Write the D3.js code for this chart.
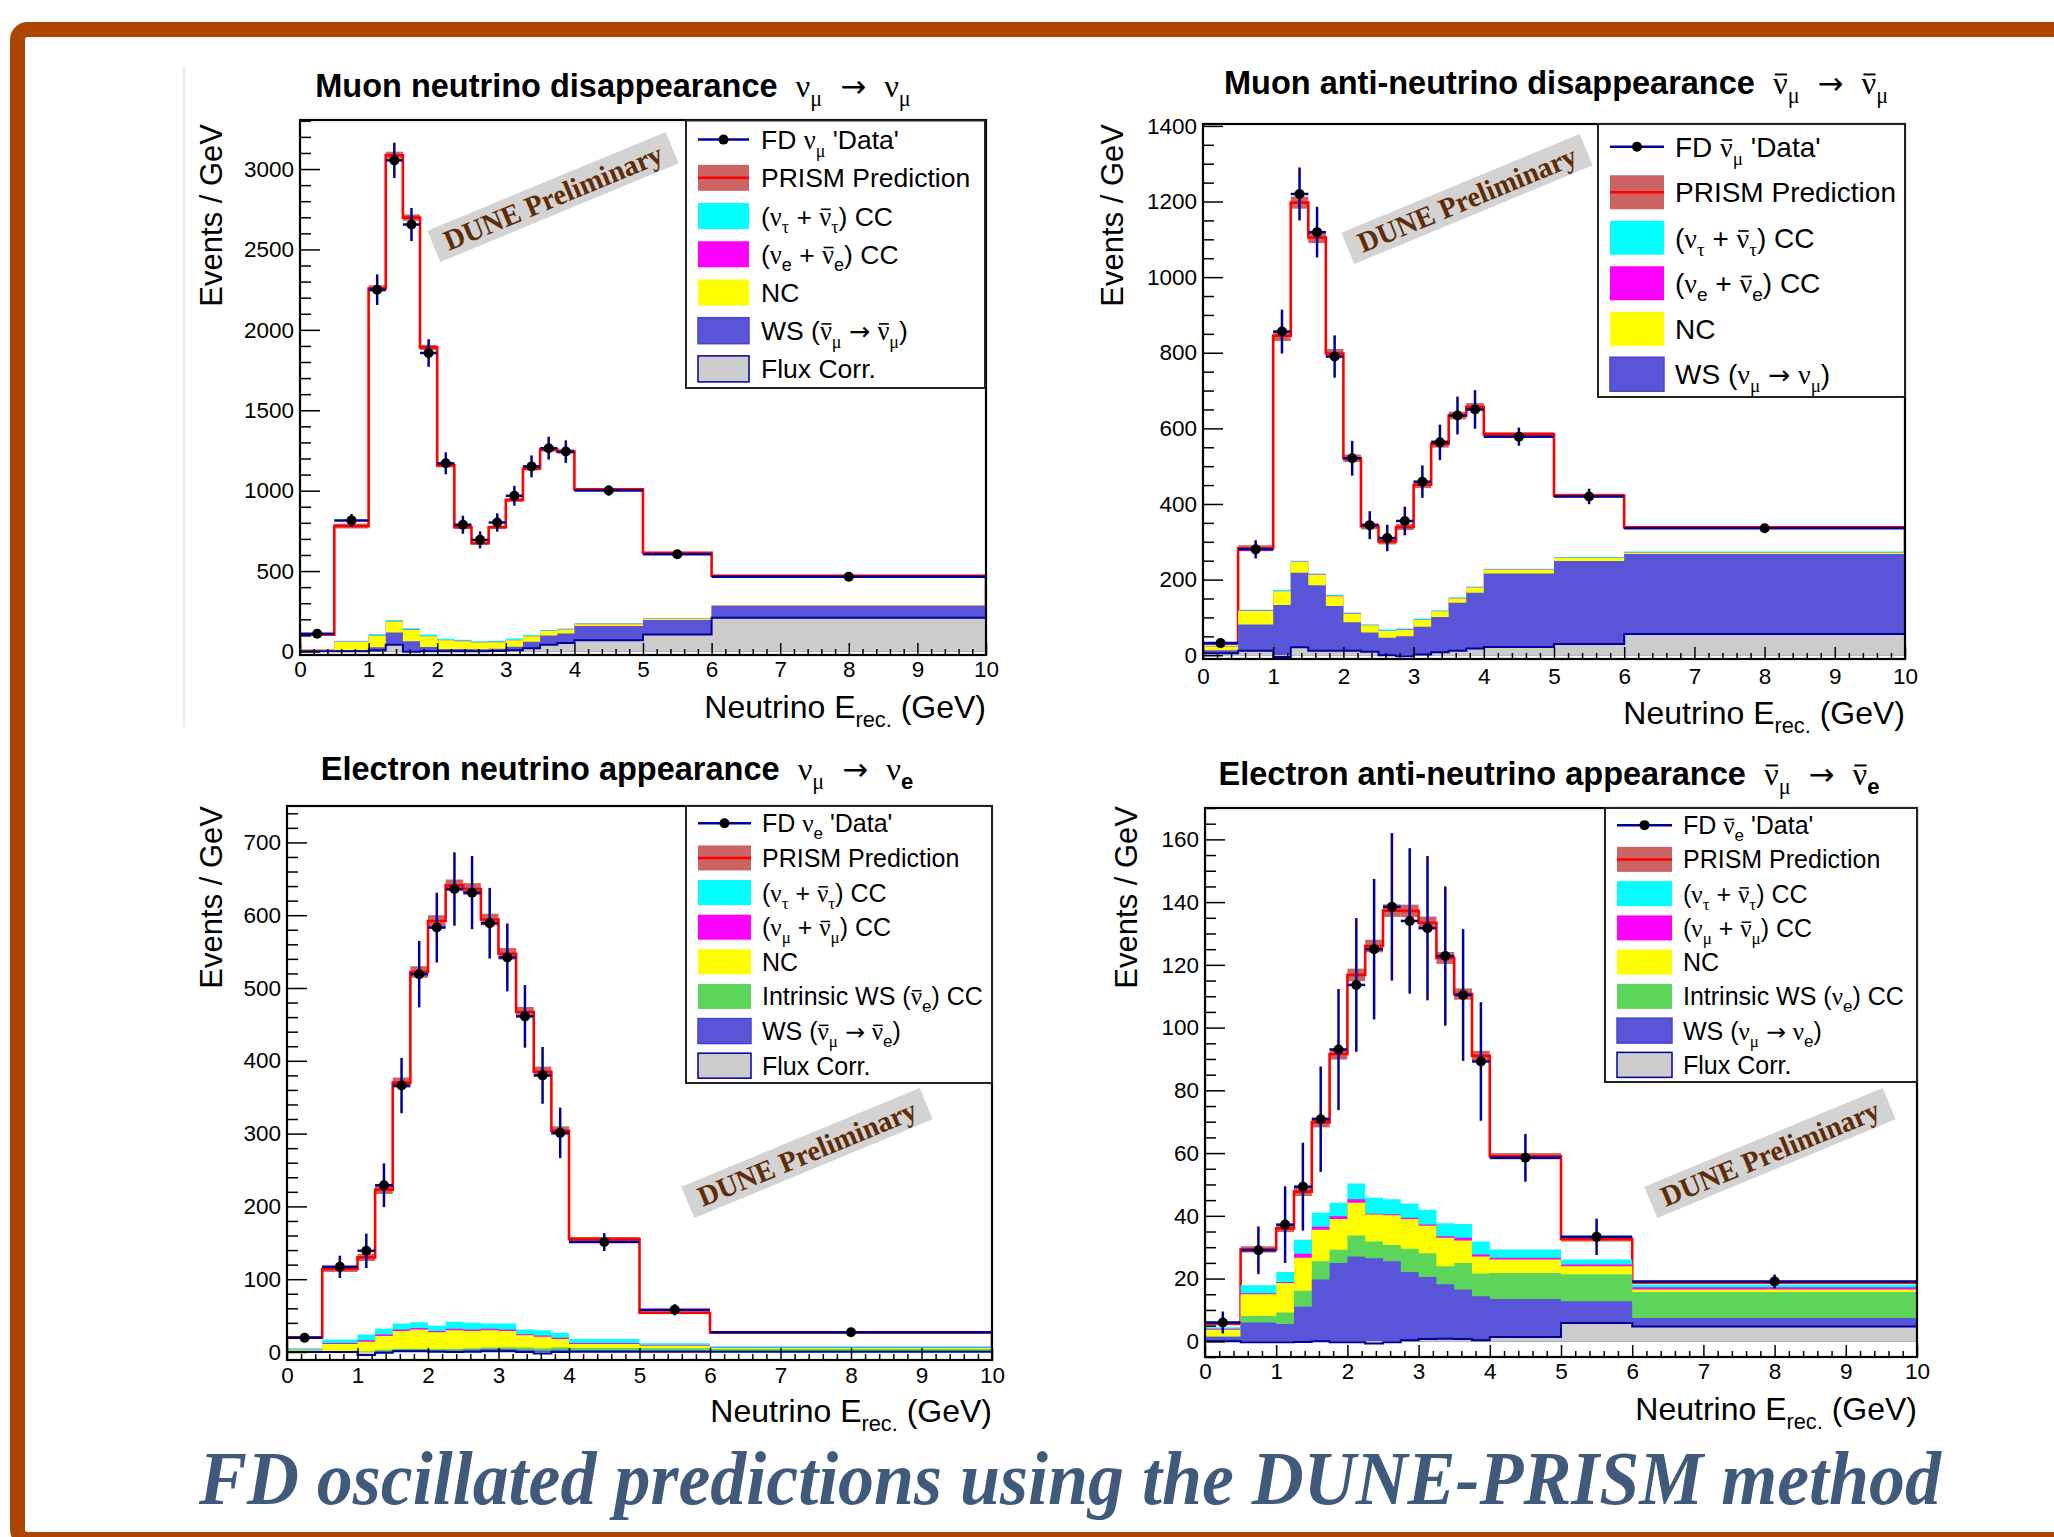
<!DOCTYPE html>
<html>
<head>
<meta charset="utf-8">
<script src="https://cdn.jsdelivr.net/npm/d3@7"></script>
<style>
  body { margin: 0; background: #fff; }
  svg text { white-space: pre; }
</style>
</head>
<body>
<svg id="chart" width="2054" height="1537"></svg>
<script>
// bin edges (GeV) shared by all four histograms
var edges = [0, 0.5, 1, 1.25, 1.5, 1.75, 2, 2.25, 2.5, 2.75, 3, 3.25, 3.5, 3.75, 4, 5, 6, 10];
var xTicks = [0, 1, 2, 3, 4, 5, 6, 7, 8, 9, 10];

// muon neutrino disappearance
var numuData    = [110, 815, 2250, 3054, 2655, 1856, 1170, 788, 694, 802, 968, 1151, 1264, 1243, 1001, 605, 465];
var numuDataErr = [15, 40, 95, 110, 103, 86, 68, 56, 53, 57, 62, 68, 71, 70, 32, 25, 11];
var numuPred    = [105, 780, 2257, 3086, 2698, 1891, 1157, 772, 673, 772, 942, 1138, 1256, 1243, 1009, 613, 471];
var numuPredErr = [8, 15, 20, 22, 20, 16, 12, 10, 10, 10, 11, 12, 13, 13, 8, 6, 5];
var numuFlux    = [2, 2, 6, 42, -2, 2, 2, 2, 2, 3, 8, 20, 42, 52, 70, 106, 210];
var numuWS      = [3, 6, 20, 76, 66, 26, 14, 14, 12, 14, 22, 40, 58, 60, 88, 89, 72];
var numuNC      = [7, 52, 72, 68, 70, 66, 53, 48, 42, 41, 40, 34, 27, 24, 12, 8, 4];
var numuNue     = [1, 2, 2, 2, 2, 2, 2, 2, 2, 2, 2, 2, 2, 2, 2, 2, 1];
var numuNutau   = [2, 4, 9, 7, 9, 10, 8, 7, 6, 6, 8, 7, 5, 5, 4, 2, 2];
var numuYTicks  = [0, 500, 1000, 1500, 2000, 2500, 3000];

// muon anti-neutrino disappearance
var numubarData    = [32, 280, 856, 1220, 1119, 790, 521, 344, 310, 355, 459, 563, 634, 650, 578, 420, 336];
var numubarDataErr = [8, 24, 58, 70, 67, 56, 46, 37, 35, 38, 43, 47, 50, 51, 24, 20.5, 9.2];
var numubarPred    = [31, 283, 845, 1197, 1105, 798, 521, 341, 301, 339, 451, 559, 634, 657, 584, 422, 338];
var numubarPredErr = [4, 8, 14, 16, 15, 12, 10, 8, 8, 8, 9, 10, 10, 10, 6, 5, 4];
var numubarFlux    = [5, 12, -5, 21, 12, 12, 12, 9, 0, -3, 2, 8, 12, 18, 22, 30, 56];
var numubarWS      = [8, 69, 138, 197, 173, 118, 75, 51, 46, 53, 73, 93, 127, 147, 194, 219, 212];
var numubarNC      = [10, 36, 36, 29, 28, 26, 23, 19, 18, 17, 18, 15, 11, 14, 10, 8, 3];
var numubarNue     = [1, 1, 1, 1, 1, 1, 1, 1, 1, 1, 1, 1, 1, 1, 1, 1, 1];
var numubarNutau   = [2, 2, 3, 2, 2, 3, 2, 2, 3, 3, 3, 2, 2, 2, 2, 2, 2];
var numubarYTicks  = [0, 200, 400, 600, 800, 1000, 1200, 1400];

// electron neutrino appearance
var nueData    = [19.5, 117, 139, 229, 366, 519, 583, 636, 631, 589, 542, 461, 380, 301, 151, 58, 27];
var nueDataErr = [6.2, 15.3, 23.6, 30, 38, 45.6, 48, 50.4, 50.2, 48.5, 46.6, 43, 39, 34.7, 12.3, 7.6, 2.6];
var nuePred    = [20, 114, 130, 223, 370, 522, 592, 641, 636, 594, 547, 467, 385, 304, 155, 54, 27];
var nuePredErr = [2, 4, 5, 6, 7, 8, 8, 8, 8, 8, 8, 7, 7, 6, 3, 2, 1.5];
var nueFlux    = [0, 0, -4, -1, 1, 1, 0.5, 0, 0.5, 1, 1, 0, -2, 0, 0.5, 0.5, 0.5];
var nueWS      = [1, 0.5, 3, 2, 2, 2, 2, 2, 2.5, 3, 3, 3, 4, 3, 2, 1.5, 1];
var nueIntr    = [1, 1, 2, 2, 1.5, 1.5, 1.5, 2, 2, 2, 2.5, 3, 3, 3.5, 3, 3, 2.5];
var nueNC      = [1.5, 9.5, 13, 19, 24.5, 26.5, 23, 26, 24, 24, 22.5, 17, 16, 11.5, 5.5, 3.7, 1.5];
var nueNumu    = [0.3, 1.2, 2, 2, 2, 2, 2, 2, 2, 2, 2, 1.5, 1.5, 1.5, 1.5, 1, 0.5];
var nueNutau   = [1.2, 4.8, 8, 8, 8, 8, 7, 9.5, 9, 7, 8, 6.5, 7.5, 6.5, 5.5, 2.3, 2];
var nueYTicks  = [0, 100, 200, 300, 400, 500, 600, 700];

// electron anti-neutrino appearance
var nuebarData    = [6, 29, 37.2, 49.3, 70.8, 93, 113.6, 125, 138.5, 134, 131.7, 122.8, 110.4, 89.2, 58.5, 33.3, 19.1];
var nuebarDataErr = [3.5, 7.6, 12.2, 14, 16.8, 19.3, 21.3, 22.4, 23.5, 23.2, 23, 22.2, 21, 18.9, 7.6, 5.8, 2.2];
var nuebarPred    = [5.7, 29.3, 36, 47.7, 69.8, 91.6, 116.8, 126, 137.3, 137.2, 133.4, 122.2, 110.7, 91, 59, 32.6, 18.8];
var nuebarPredErr = [0.6, 1, 1.2, 1.4, 1.6, 1.8, 2, 2, 2, 2, 2, 1.9, 1.8, 1.6, 1, 0.8, 0.5];
var nuebarFlux    = [0, -0.3, -0.3, -0.2, 0, -0.3, -0.3, -0.7, -0.3, 0.3, 0.7, 0.8, 0.7, 0.3, 1.4, 5.8, 4.7];
var nuebarWS      = [1.4, 6.3, 5.8, 11.2, 19.7, 25.3, 27.3, 27.2, 25.8, 21.8, 19.8, 17.4, 15.8, 14.1, 12.1, 7.0, 2.7];
var nuebarIntr    = [0.2, 2.1, 3.7, 5.1, 5.8, 4.2, 6.7, 5.3, 5.2, 7.4, 7.6, 5.7, 8.5, 7.2, 8.3, 8.6, 8.3];
var nuebarNC      = [2.1, 6.9, 9.4, 10.5, 10.1, 9.8, 10.5, 8.6, 9.5, 9.5, 8.7, 9.1, 7.1, 5.4, 4.3, 2.5, 0.8];
var nuebarNumu    = [0.3, 0.3, 0.3, 1.3, 0.9, 0.9, 1.1, 0.3, 0.3, 0.4, 0.4, 0.5, 0.9, 0.7, 0.5, 0.6, 0.7];
var nuebarNutau   = [0.5, 2.6, 3.2, 4.5, 4.5, 4.3, 5.0, 5.1, 4.8, 4.5, 4.7, 4.1, 4.4, 4.1, 2.7, 1.6, 0.9];
var nuebarYTicks  = [0, 20, 40, 60, 80, 100, 120, 140, 160];

var sans = "'Liberation Sans', Arial, Helvetica, sans-serif";
var serif = "'Liberation Serif', 'Times New Roman', serif";
var arrowFont = "'DejaVu Sans', sans-serif";
var col = {
  nutau: '#00ffff', nuother: '#ff00ff', nc: '#ffff00', intr: '#5bd65b',
  ws: '#5a54d8', flux: '#cccccc', band: '#cc6464', red: '#ff0000', navy: '#000099'
};

var svg = d3.select('#chart');

// outer slide frame and the faint edge of the pasted plot
svg.append('rect')
  .attr('x', 17.5).attr('y', 29.5).attr('width', 2100).attr('height', 1510).attr('rx', 10)
  .attr('fill', 'none').attr('stroke', '#ab4500').attr('stroke-width', 15);
svg.append('line')
  .attr('x1', 184).attr('x2', 184).attr('y1', 67).attr('y2', 727)
  .attr('stroke', '#e0e0e0').attr('stroke-width', 1.5);

// tiny ROOT-latex-ish renderer: _{..} subscripts, "ν̄" barred, greek in serif
var BAR = 'ν\u0304';
function rich(t, str, size, bold) {
  var shift = 0, bars = [];
  str.split(/(_\{[^}]*\})/).forEach(function(part) {
    if (!part) return;
    var sub = part.indexOf('_{') === 0;
    var s = sub ? part.slice(2, -1) : part;
    var target = sub ? size * 0.28 : 0;
    s.match(/ν\u0304|[\u2190-\u21ff]|[\u0370-\u03ff]+|[^\u0370-\u03ff\u2190-\u21ff]+/g).forEach(function(run) {
      var barred = run === BAR;
      var arrow = /[\u2190-\u21ff]/.test(run);
      var gk = barred || arrow || /[\u0370-\u03ff]/.test(run);
      var fs = (sub ? 0.68 : 1) * size;
      var ts = t.append('tspan').text(barred ? 'ν' : run)
        .attr('font-family', arrow ? arrowFont : (gk ? serif : sans))
        .attr('font-weight', (bold && !gk) ? 'bold' : 'normal')
        .attr('font-size', fs * (arrow ? 0.95 : 1));
      if (target !== shift) { ts.attr('dy', target - shift); shift = target; }
      if (barred) bars.push([ts, fs]);
    });
  });
  // overbars drawn as short strokes above the glyph
  var parent = d3.select(t.node().parentNode);
  bars.forEach(function(b) {
    var bb = b[0].node().getBBox();
    var base = bb.y + 0.891 * b[1];
    parent.append('line')
      .attr('x1', bb.x + 0.06 * b[1]).attr('x2', bb.x + bb.width - 0.02 * b[1])
      .attr('y1', base - 0.6 * b[1]).attr('y2', base - 0.6 * b[1])
      .attr('stroke', '#000').attr('stroke-width', Math.max(1.4, 0.06 * b[1]));
  });
  return t;
}

var NUB = BAR;
var AR = '\u00a0 → \u00a0';

var panels = [
  {
    id: 1, left: 300, right: 986, top: 120, bottom: 655, yDomain: [-22, 3305],
    yTicks: numuYTicks, yMinor: 100, xPad: 6,
    title: 'Muon neutrino disappearance\u00a0 ν_{μ}' + AR + 'ν_{μ}', titleX: 613, titleY: 97,
    yLabX: 222, yLabY: 124, xLabY: 718,
    data: numuData, dataErr: numuDataErr, pred: numuPred, predErr: numuPredErr,
    stack: [[numuFlux, col.flux], [numuWS, col.ws], [numuNC, col.nc], [numuNue, col.nuother], [numuNutau, col.nutau]],
    legend: { x0: 686, y0: 120.5, x1: 985, y1: 388, font: 26.5, symX: 698, symW: 51, symH: 26, textX: 761 },
    entries: [
      ['data', 'FD ν_{μ} \'Data\''], ['pred', 'PRISM Prediction'],
      ['fill', '(ν_{τ} + ' + NUB + '_{τ}) CC', col.nutau], ['fill', '(ν_{e} + ' + NUB + '_{e}) CC', col.nuother],
      ['fill', 'NC', col.nc], ['fill', 'WS (' + NUB + '_{μ} → ' + NUB + '_{μ})', col.ws], ['fill', 'Flux Corr.', col.flux]
    ],
    mark: [553, 197]
  },
  {
    id: 2, left: 1203, right: 1905, top: 124, bottom: 659, yDomain: [-10, 1405],
    yTicks: numubarYTicks, yMinor: 50, xPad: 9,
    title: 'Muon anti-neutrino disappearance\u00a0 ' + NUB + '_{μ}' + AR + NUB + '_{μ}', titleX: 1556, titleY: 94,
    yLabX: 1123, yLabY: 124, xLabY: 724,
    data: numubarData, dataErr: numubarDataErr, pred: numubarPred, predErr: numubarPredErr,
    stack: [[numubarFlux, col.flux], [numubarWS, col.ws], [numubarNC, col.nc], [numubarNue, col.nuother], [numubarNutau, col.nutau]],
    legend: { x0: 1598, y0: 124, x1: 1905, y1: 397, font: 28, symX: 1610, symW: 54, symH: 34, textX: 1675 },
    entries: [
      ['data', 'FD ' + NUB + '_{μ} \'Data\''], ['pred', 'PRISM Prediction'],
      ['fill', '(ν_{τ} + ' + NUB + '_{τ}) CC', col.nutau], ['fill', '(ν_{e} + ' + NUB + '_{e}) CC', col.nuother],
      ['fill', 'NC', col.nc], ['fill', 'WS (ν_{μ} → ν_{μ})', col.ws]
    ],
    mark: [1467, 199]
  },
  {
    id: 3, left: 287, right: 992, top: 806, bottom: 1360, yDomain: [-11, 750],
    yTicks: nueYTicks, yMinor: 20, xPad: 7,
    title: 'Electron neutrino appearance\u00a0 ν_{μ}' + AR + 'ν_{e}', titleX: 617, titleY: 780,
    yLabX: 222, yLabY: 806, xLabY: 1422,
    data: nueData, dataErr: nueDataErr, pred: nuePred, predErr: nuePredErr,
    stack: [[nueFlux, col.flux], [nueWS, col.ws], [nueIntr, col.intr], [nueNC, col.nc], [nueNumu, col.nuother], [nueNutau, col.nutau]],
    legend: { x0: 686, y0: 806, x1: 992, y1: 1083, font: 25, symX: 698, symW: 53, symH: 25, textX: 762 },
    entries: [
      ['data', 'FD ν_{e} \'Data\''], ['pred', 'PRISM Prediction'],
      ['fill', '(ν_{τ} + ' + NUB + '_{τ}) CC', col.nutau], ['fill', '(ν_{μ} + ' + NUB + '_{μ}) CC', col.nuother],
      ['fill', 'NC', col.nc], ['fill', 'Intrinsic WS (' + NUB + '_{e}) CC', col.intr],
      ['fill', 'WS (' + NUB + '_{μ} → ' + NUB + '_{e})', col.ws], ['fill', 'Flux Corr.', col.flux]
    ],
    mark: [807, 1153]
  },
  {
    id: 4, left: 1205, right: 1917, top: 808, bottom: 1357, yDomain: [-5, 170],
    yTicks: nuebarYTicks, yMinor: 5, xPad: 6,
    title: 'Electron anti-neutrino appearance\u00a0 ' + NUB + '_{μ}' + AR + NUB + '_{e}', titleX: 1549, titleY: 785,
    yLabX: 1137, yLabY: 806, xLabY: 1420,
    data: nuebarData, dataErr: nuebarDataErr, pred: nuebarPred, predErr: nuebarPredErr,
    stack: [[nuebarFlux, col.flux], [nuebarWS, col.ws], [nuebarIntr, col.intr], [nuebarNC, col.nc], [nuebarNumu, col.nuother], [nuebarNutau, col.nutau]],
    legend: { x0: 1605, y0: 808, x1: 1917, y1: 1082, font: 25, symX: 1617, symW: 55, symH: 25, textX: 1683 },
    entries: [
      ['data', 'FD ' + NUB + '_{e} \'Data\''], ['pred', 'PRISM Prediction'],
      ['fill', '(ν_{τ} + ' + NUB + '_{τ}) CC', col.nutau], ['fill', '(ν_{μ} + ' + NUB + '_{μ}) CC', col.nuother],
      ['fill', 'NC', col.nc], ['fill', 'Intrinsic WS (ν_{e}) CC', col.intr],
      ['fill', 'WS (ν_{μ} → ν_{e})', col.ws], ['fill', 'Flux Corr.', col.flux]
    ],
    mark: [1770, 1153]
  }
];

function drawPanel(p) {
  var x = d3.scaleLinear().domain([0, 10]).range([p.left, p.right]);
  var y = d3.scaleLinear().domain(p.yDomain).range([p.bottom, p.top]);
  var g = svg.append('g');

  svg.append('clipPath').attr('id', 'clip' + p.id).append('rect')
    .attr('x', p.left).attr('y', p.top).attr('width', p.right - p.left).attr('height', p.bottom - p.top);
  var plot = g.append('g').attr('clip-path', 'url(#clip' + p.id + ')');

  // prediction uncertainty band
  plot.selectAll('rect.band').data(p.pred).join('rect').attr('class', 'band')
    .attr('x', function(d, i) { return x(edges[i]); })
    .attr('width', function(d, i) { return x(edges[i + 1]) - x(edges[i]); })
    .attr('y', function(d, i) { return y(d + p.predErr[i]); })
    .attr('height', function(d, i) { return y(d - p.predErr[i]) - y(d + p.predErr[i]); })
    .attr('fill', col.band);

  var line = d3.line().x(function(d) { return x(d[0]); }).y(function(d) { return y(d[1]); });
  var steps = function(vals) {
    var pts = [];
    vals.forEach(function(v, i) { pts.push([edges[i], v], [edges[i + 1], v]); });
    return pts;
  };

  var redPts = [[0, 0]].concat(steps(p.pred), [[10, 0]]);
  plot.append('path').attr('d', line(redPts))
    .attr('fill', 'none').attr('stroke', col.red).attr('stroke-width', 2.6);

  // stacked components, cumulative, drawn top-down like THStack
  var cum = [], run = p.pred.map(function() { return 0; });
  p.stack.forEach(function(s) {
    run = run.map(function(r, i) { return r + s[0][i]; });
    cum.push(run);
  });
  var area = d3.area()
    .x(function(d) { return x(d[0]); })
    .y0(y(0))
    .y1(function(d) { return y(d[1]); });
  for (var k = cum.length - 1; k >= 0; k--) {
    plot.append('path').attr('d', area(steps(cum[k]))).attr('fill', p.stack[k][1]);
  }
  plot.append('path').attr('d', line(steps(cum[0])))
    .attr('fill', 'none').attr('stroke', col.navy).attr('stroke-width', 2);

  // fake data
  plot.selectAll('line.hx').data(p.data).join('line').attr('class', 'hx')
    .attr('x1', function(d, i) { return x(edges[i]); })
    .attr('x2', function(d, i) { return x(edges[i + 1]); })
    .attr('y1', function(d) { return y(d); }).attr('y2', function(d) { return y(d); })
    .attr('stroke', col.navy).attr('stroke-width', 2.5);
  plot.selectAll('line.ey').data(p.data).join('line').attr('class', 'ey')
    .attr('x1', function(d, i) { return x((edges[i] + edges[i + 1]) / 2); })
    .attr('x2', function(d, i) { return x((edges[i] + edges[i + 1]) / 2); })
    .attr('y1', function(d, i) { return y(d - p.dataErr[i]); })
    .attr('y2', function(d, i) { return y(d + p.dataErr[i]); })
    .attr('stroke', col.navy).attr('stroke-width', 2.5);
  plot.selectAll('circle').data(p.data).join('circle')
    .attr('cx', function(d, i) { return x((edges[i] + edges[i + 1]) / 2); })
    .attr('cy', function(d) { return y(d); })
    .attr('r', 5).attr('fill', '#000');

  // axes, ticks inside the frame
  var yMin = Math.ceil(p.yDomain[0] / p.yMinor) * p.yMinor;
  var yMinorVals = d3.range(yMin, p.yDomain[1] + 0.001, p.yMinor)
    .filter(function(v) { return p.yTicks.indexOf(v) < 0; });
  var yAx = g.append('g').attr('transform', 'translate(' + p.left + ',0)')
    .call(d3.axisLeft(y).tickValues(p.yTicks).tickFormat(d3.format('d'))
      .tickSizeInner(-20).tickSizeOuter(0).tickPadding(6));
  g.append('g').attr('transform', 'translate(' + p.left + ',0)')
    .call(d3.axisLeft(y).tickValues(yMinorVals).tickSizeInner(-11).tickSizeOuter(0).tickFormat(''));
  var xMinorVals = d3.range(0, 10.001, 0.2).filter(function(v) { return Math.abs(v - Math.round(v)) > 0.01; });
  var xAx = g.append('g').attr('transform', 'translate(0,' + p.bottom + ')')
    .call(d3.axisBottom(x).tickValues(xTicks).tickFormat(d3.format('d'))
      .tickSizeInner(-12).tickSizeOuter(0).tickPadding(p.xPad));
  g.append('g').attr('transform', 'translate(0,' + p.bottom + ')')
    .call(d3.axisBottom(x).tickValues(xMinorVals).tickSizeInner(-6).tickSizeOuter(0).tickFormat(''));
  g.selectAll('.domain').remove();
  g.selectAll('.tick line').attr('stroke', '#000').attr('stroke-width', 1.5);
  [yAx, xAx].forEach(function(a) {
    a.attr('font-size', 22.5).attr('font-family', sans);
    a.selectAll('text').attr('fill', '#000');
  });

  g.append('rect')
    .attr('x', p.left).attr('y', p.top).attr('width', p.right - p.left).attr('height', p.bottom - p.top)
    .attr('fill', 'none').attr('stroke', '#000').attr('stroke-width', 2.2);

  // titles
  rich(g.append('text').attr('x', p.titleX).attr('y', p.titleY).attr('text-anchor', 'middle'), p.title, 32.5, true);
  rich(g.append('text').attr('transform', 'translate(' + p.yLabX + ',' + p.yLabY + ') rotate(-90)')
    .attr('text-anchor', 'end'), 'Events / GeV', 31, false);
  rich(g.append('text').attr('x', p.right).attr('y', p.xLabY).attr('text-anchor', 'end'),
    'Neutrino E_{rec.} (GeV)', 32, false);

  // legend
  var L = p.legend, rowH = (L.y1 - L.y0) / p.entries.length;
  g.append('rect').attr('x', L.x0).attr('y', L.y0).attr('width', L.x1 - L.x0).attr('height', L.y1 - L.y0)
    .attr('fill', '#fff').attr('stroke', '#222').attr('stroke-width', 2);
  p.entries.forEach(function(e, i) {
    var cy = L.y0 + rowH * (i + 0.5);
    if (e[0] === 'data') {
      g.append('line').attr('x1', L.symX).attr('x2', L.symX + L.symW).attr('y1', cy).attr('y2', cy)
        .attr('stroke', col.navy).attr('stroke-width', 2.5);
      g.append('circle').attr('cx', L.symX + L.symW / 2).attr('cy', cy).attr('r', 5).attr('fill', '#000');
    } else if (e[0] === 'pred') {
      g.append('rect').attr('x', L.symX).attr('y', cy - L.symH / 2).attr('width', L.symW).attr('height', L.symH)
        .attr('fill', col.band);
      g.append('line').attr('x1', L.symX).attr('x2', L.symX + L.symW).attr('y1', cy).attr('y2', cy)
        .attr('stroke', col.red).attr('stroke-width', 2.5);
    } else {
      var r = g.append('rect').attr('x', L.symX).attr('y', cy - L.symH / 2).attr('width', L.symW).attr('height', L.symH)
        .attr('fill', e[2]);
      if (e[2] === col.flux) r.attr('stroke', col.navy).attr('stroke-width', 1.5);
      if (e[2] === col.ws) r.attr('stroke', '#4a44cc').attr('stroke-width', 1.5);
    }
    rich(g.append('text').attr('x', L.textX).attr('y', cy + L.font * 0.36), e[1], L.font, false);
  });

  // watermark
  var wm = g.append('g').attr('transform', 'translate(' + p.mark[0] + ',' + p.mark[1] + ') rotate(-22.5)');
  wm.append('rect').attr('x', -129).attr('y', -17).attr('width', 258).attr('height', 34).attr('fill', '#d3d3d3');
  wm.append('text').attr('text-anchor', 'middle').attr('y', 10)
    .attr('font-family', serif).attr('font-weight', 'bold').attr('font-size', 29)
    .attr('fill', '#5e2c06').attr('textLength', 234).attr('lengthAdjust', 'spacingAndGlyphs')
    .text('DUNE Preliminary');
}

panels.forEach(drawPanel);

svg.append('text')
  .attr('x', 1070).attr('y', 1504).attr('text-anchor', 'middle')
  .attr('font-family', serif).attr('font-style', 'italic').attr('font-weight', 'bold')
  .attr('font-size', 76).attr('fill', '#3f5a7b')
  .attr('textLength', 1742).attr('lengthAdjust', 'spacingAndGlyphs')
  .text('FD oscillated predictions using the DUNE-PRISM method');
</script>
</body>
</html>
